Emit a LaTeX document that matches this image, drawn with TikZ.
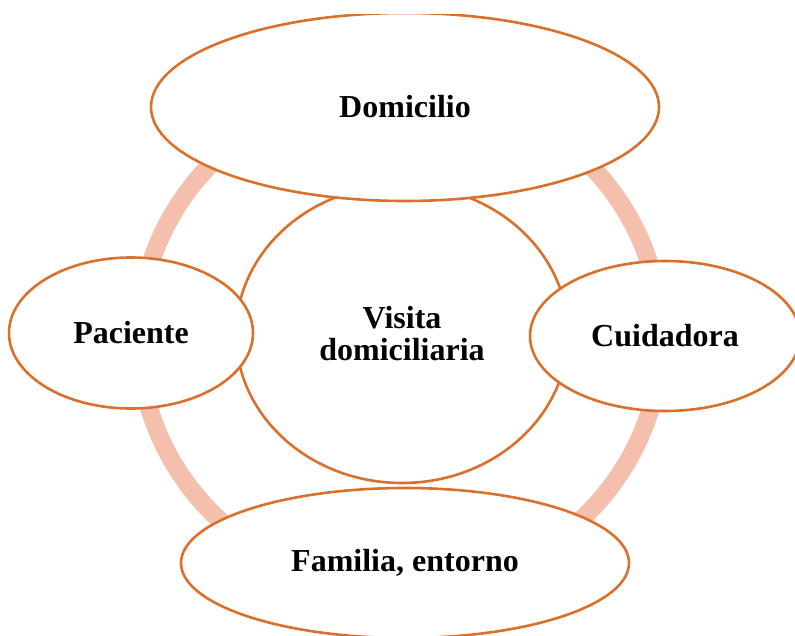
\documentclass[tikz,border=0pt]{standalone}
\usepackage{fontspec}
\setmainfont{Liberation Serif}
\usetikzlibrary{shapes.geometric}
\definecolor{ringcol}{HTML}{F4BFAC}
\definecolor{edgecol}{HTML}{D9702C}
\tikzset{
  bubble/.style={ellipse, draw=edgecol, line width=1.3pt, fill=white, inner sep=0pt,
    align=center, font=\bfseries\fontsize{16}{16}\selectfont, text=black},
  ringline/.style={draw=ringcol, line width=9pt}
}
\begin{document}
\begin{tikzpicture}[x=0.5pt,y=-0.5pt]
\useasboundingbox (0,0) rectangle (795,635);
\clip (0,15) rectangle (795,635);
\draw[ringline] (400,338) ellipse [x radius=130.5pt, y radius=126pt];
\node[bubble, minimum width=166pt, minimum height=149pt] (center) at (402,334) {Visita\\domiciliaria};
\node[bubble, minimum width=254pt, minimum height=94pt] (dom) at (405,107) {Domicilio};
\node[bubble, minimum width=122pt, minimum height=75.5pt] (pac) at (131,333) {Paciente};
\node[bubble, minimum width=135pt, minimum height=75pt] (cui) at (665,336) {Cuidadora};
\node[bubble, minimum width=224pt, minimum height=75pt] (fam) at (405,563) {Familia, entorno};
\end{tikzpicture}
\end{document}
